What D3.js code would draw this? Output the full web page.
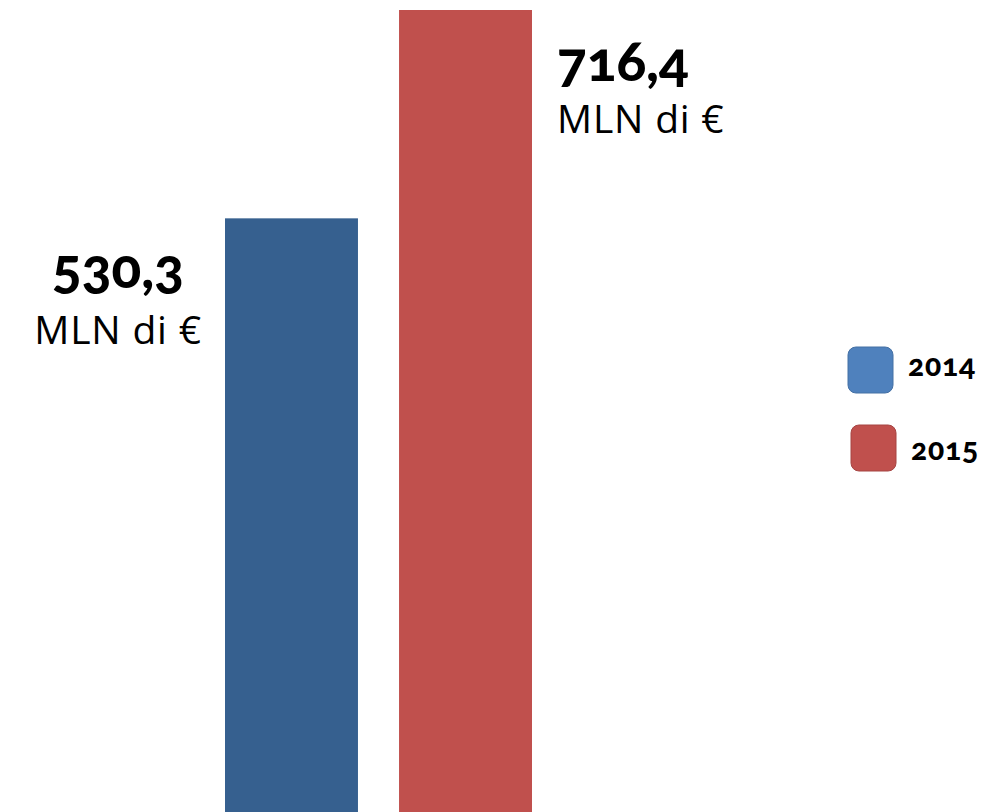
<!DOCTYPE html>
<html>
<head>
<meta charset="utf-8">
<script src="https://cdn.jsdelivr.net/npm/d3@7"></script>
<style>
  body { margin: 0; background: #fff; }
  .num { font-family: Lato, sans-serif; font-weight: 900; font-variant-numeric: oldstyle-nums; }
  .unit { font-family: "Open Sans", sans-serif; }
</style>
</head>
<body>
<div id="chart"></div>
<script>
const width = 985;
const height = 812;

// data
const years = ["2014", "2015"];
const values = [530.3, 716.4];
const valueLabels = ["530,3", "716,4"];
const unitLabel = "MLN di €";
const barColors = ["#36608f", "#c0504d"];
const legendColors = ["#4f81bd", "#c0504d"];

const svg = d3.select("#chart").append("svg")
  .attr("width", width)
  .attr("height", height);

const x = d3.scaleBand()
  .domain(years)
  .range([225, 532])
  .paddingInner(0.236);

const y = d3.scaleLinear()
  .domain([0, d3.max(values)])
  .range([height, 10]);

const data = years.map((yr, i) => ({ year: yr, value: values[i], label: valueLabels[i], color: barColors[i] }));

svg.selectAll("rect.bar")
  .data(data)
  .join("rect")
  .attr("class", "bar")
  .attr("x", d => x(d.year))
  .attr("y", d => y(d.value))
  .attr("width", x.bandwidth())
  .attr("height", d => height - y(d.value))
  .attr("fill", d => d.color);

// value labels: first one sits left of its bar, second one right of it
function labelX(d, i) {
  return i == 0 ? x(d.year) - 107 : x(d.year) + x.bandwidth() + 25;
}

const labels = svg.selectAll("g.lbl")
  .data(data)
  .join("g")
  .attr("class", "lbl")
  .attr("text-anchor", (d, i) => i == 0 ? "middle" : "start");

labels.append("text")
  .attr("class", "num")
  .attr("x", labelX)
  .attr("y", (d, i) => y(d.value) + (i == 0 ? 70 : 71))
  .attr("font-size", 55)
  .text(d => d.label);

labels.append("text")
  .attr("class", "unit")
  .attr("x", labelX)
  .attr("y", (d, i) => y(d.value) + (i == 0 ? 126 : 123))
  .attr("font-size", 39)
  .attr("letter-spacing", 0.8)
  .text(unitLabel);

// legend
const legend = svg.selectAll("g.leg")
  .data(years)
  .join("g")
  .attr("class", "leg")
  .attr("transform", (d, i) => `translate(${848 + i * 3},${347 + i * 78})`);

legend.append("rect")
  .attr("width", 45)
  .attr("height", 46)
  .attr("rx", 8)
  .attr("fill", (d, i) => legendColors[i])
  .attr("stroke", (d, i) => d3.color(legendColors[i]).darker(0.4))
  .attr("stroke-width", 1);

legend.append("text")
  .attr("class", "num")
  .attr("x", 60)
  .attr("y", (d, i) => i == 0 ? 29 : 35)
  .attr("font-size", 30)
  .attr("letter-spacing", 0.8)
  .text(d => d);
</script>
</body>
</html>
